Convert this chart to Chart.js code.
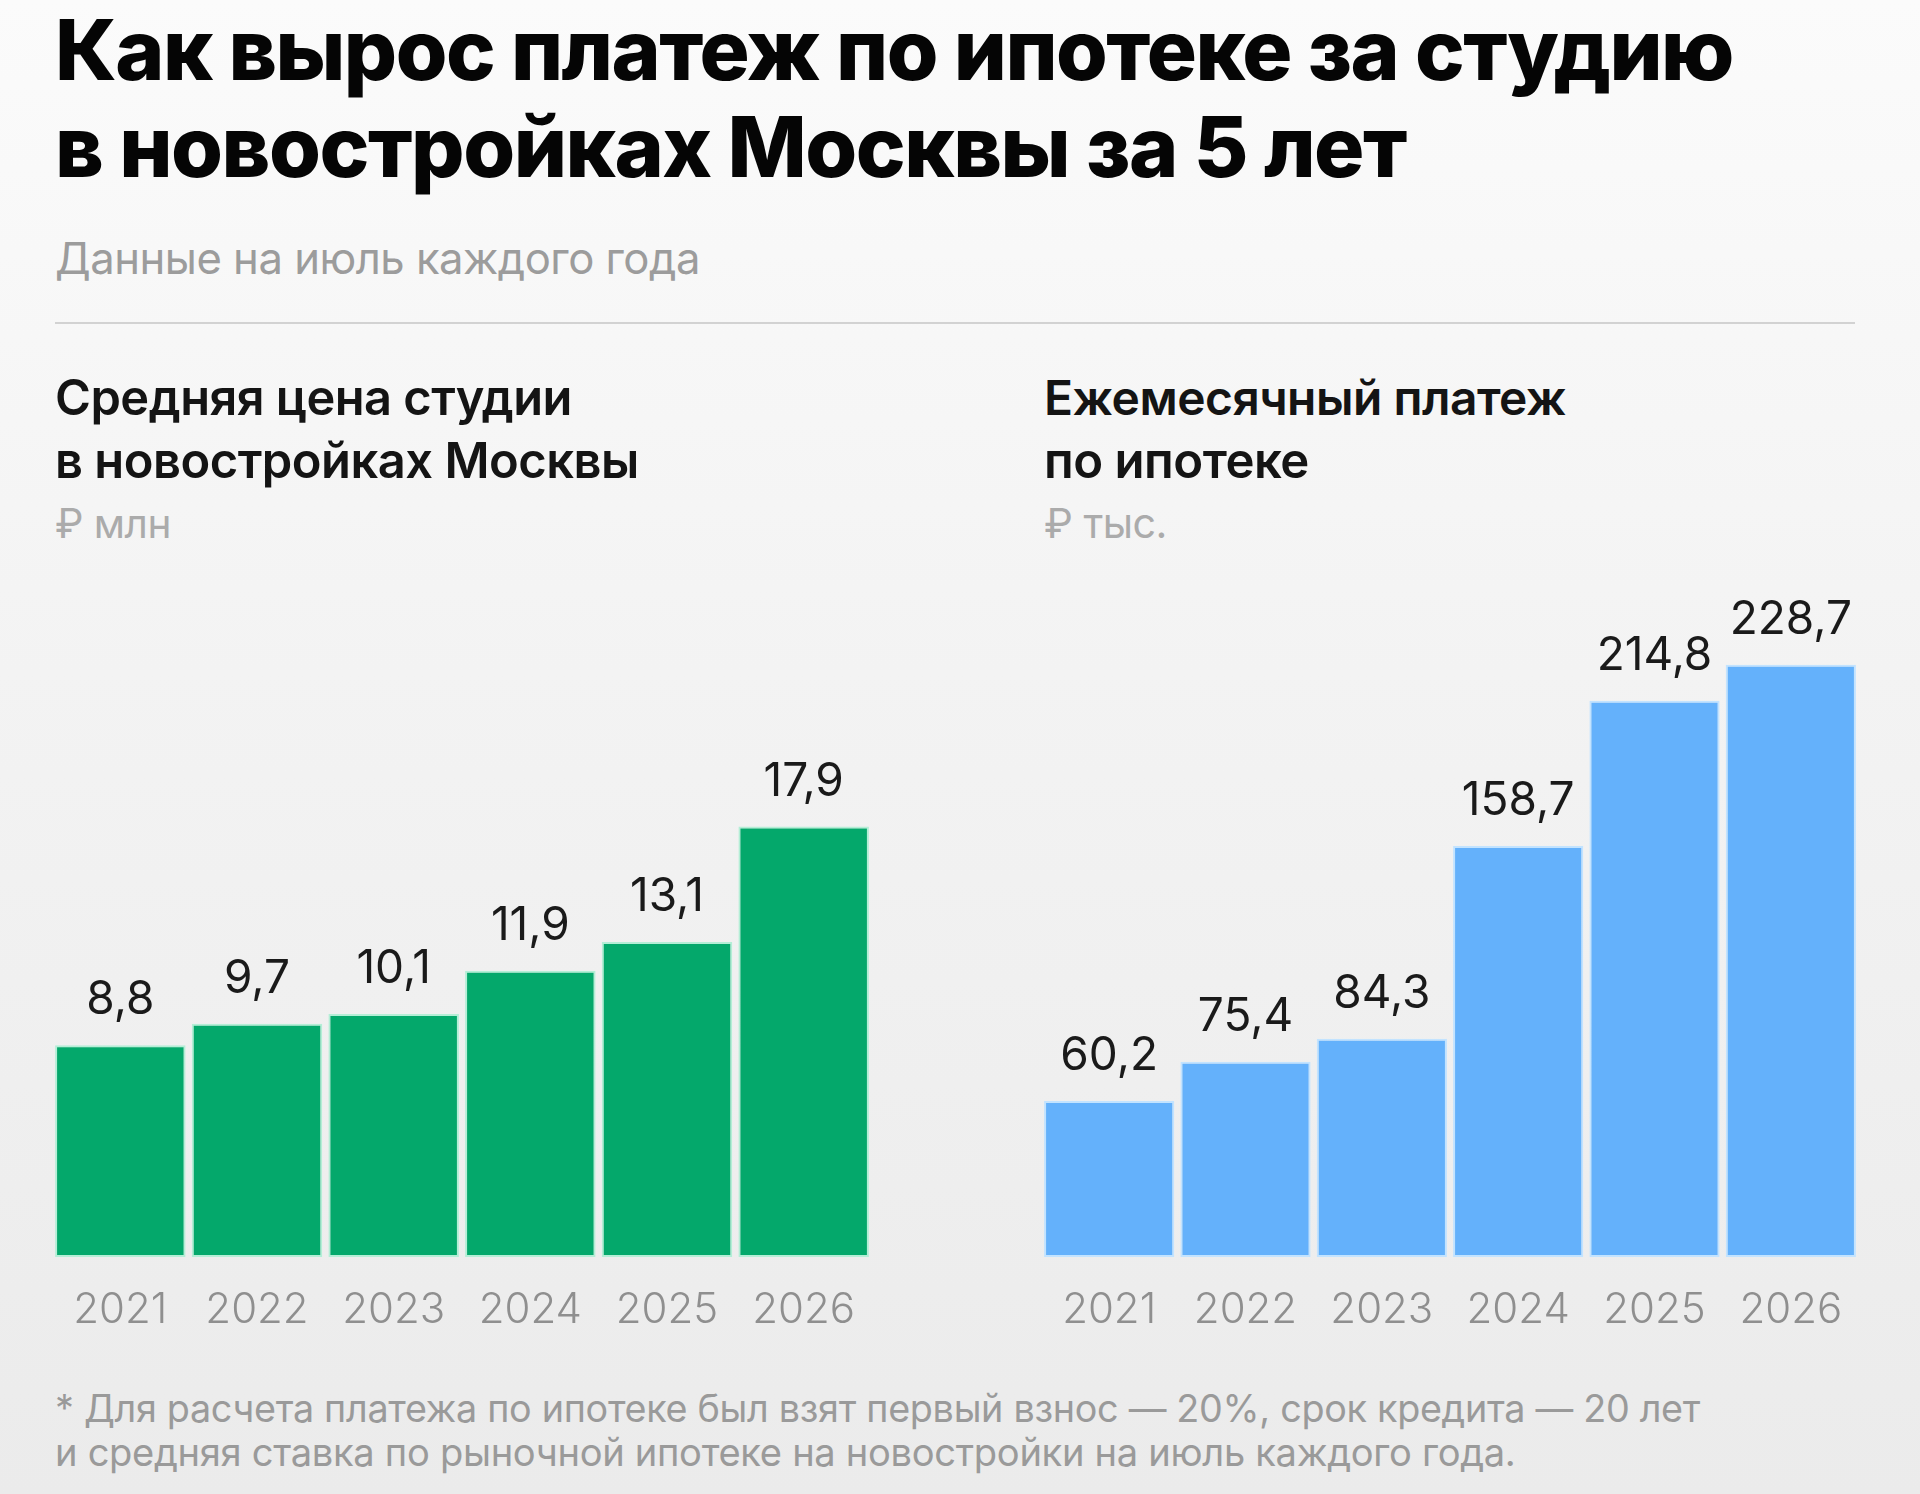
<!DOCTYPE html>
<html lang="ru">
<head>
<meta charset="utf-8">
<script src="https://cdn.jsdelivr.net/npm/chart.js@4"></script>
<style>
  html, body { margin:0; padding:0; }
  body { width:1920px; height:1494px; position:relative; overflow:hidden;
         background: linear-gradient(#fbfbfb 0%, #f3f3f3 45%, #ebebeb 100%);
         font-family: Inter, "Noto Sans", sans-serif; }
  .t { position:absolute; white-space:nowrap; line-height:1.2; }
  .rule { position:absolute; left:55px; top:322px; width:1800px; height:2px; background:#d2d2d2; }
  canvas { position:absolute; }
</style>
</head>
<body>
<div class="t" id="title1" style="font-weight:800;color:#050505;">Как вырос платеж по ипотеке за студию</div>
<div class="t" id="title2" style="font-weight:800;color:#050505;">в новостройках Москвы за 5 лет</div>
<div class="t" id="sub" style="font-weight:400;color:#9c9c9c;">Данные на июль каждого года</div>
<div class="rule"></div>
<div class="t" id="lt1" style="font-weight:600;color:#141414;">Средняя цена студии</div>
<div class="t" id="lt2" style="font-weight:600;color:#141414;">в новостройках Москвы</div>
<div class="t" id="lu" style="font-weight:400;color:#ababab;">₽ млн</div>
<div class="t" id="rt1" style="font-weight:600;color:#141414;">Ежемесячный платеж</div>
<div class="t" id="rt2" style="font-weight:600;color:#141414;">по ипотеке</div>
<div class="t" id="ru" style="font-weight:400;color:#ababab;">₽ тыс.</div>
<div class="t" id="fn1" style="font-weight:400;color:#9a9a9a;">* Для расчета платежа по ипотеке был взят первый взнос — 20%, срок кредита — 20 лет</div>
<div class="t" id="fn2" style="font-weight:400;color:#9a9a9a;">и средняя ставка по рыночной ипотеке на новостройки на июль каждого года.</div>

<canvas id="cLeft" width="820" height="800" style="left:52px;top:560px;width:820px;height:800px;"></canvas>
<canvas id="cRight" width="818" height="800" style="left:1041px;top:560px;width:818px;height:800px;"></canvas>

<script>
// ---- data ----
const years = ['2021', '2022', '2023', '2024', '2025', '2026'];
const priceValues = [8.8, 9.7, 10.1, 11.9, 13.1, 17.9];        // ₽ млн
const paymentValues = [60.2, 75.4, 84.3, 158.7, 214.8, 228.7]; // ₽ тыс.

// ---- text layout: [id, left, baseline, tracking(px), rightEdge] ----
const textSpecs = [
  ['title1', 55, 80, -1.5, 1733],
  ['title2', 55, 177, -1.5, 1406],
  ['sub', 55, 274, -0.5, 700],
  ['lt1', 55, 415, -0.5, 572],
  ['lt2', 55, 478, -0.5, 639],
  ['lu', 55, 538, -0.5, 171],
  ['rt1', 1044, 415, -0.5, 1566],
  ['rt2', 1044, 478, -0.5, 1309],
  ['ru', 1044, 538, -0.5, 1167],
  ['fn1', 55, 1422, -0.3, 1700],
  ['fn2', 55, 1466, -0.3, 1516]
];

function layoutText() {
  textSpecs.forEach(([id, x, base, track, right]) => {
    const el = document.getElementById(id);
    el.style.left = x + 'px';
    el.style.top = '0px';
    el.style.letterSpacing = track + 'px';
    el.style.fontSize = '100px';
    const w100 = el.getBoundingClientRect().width;
    el.style.fontSize = '50px';
    const w50 = el.getBoundingClientRect().width;
    const slope = (w100 - w50) / 50;
    const size = 50 + ((right - x) - w50) / slope;
    el.style.fontSize = size.toFixed(2) + 'px';
    const marker = document.createElement('span');
    marker.style.cssText = 'display:inline-block;width:0;height:0;vertical-align:baseline;';
    el.appendChild(marker);
    const b = marker.getBoundingClientRect().top - el.getBoundingClientRect().top;
    el.style.top = (base - b) + 'px';
  });
}

const fmt = v => v.toFixed(1).replace('.', ',');

const valueLabels = {
  id: 'valueLabels',
  afterDatasetsDraw(chart) {
    const ctx = chart.ctx;
    const meta = chart.getDatasetMeta(0);
    const data = chart.data.datasets[0].data;
    ctx.save();
    ctx.font = '400 46px Inter, "Noto Sans", sans-serif';
    ctx.fillStyle = '#1a1a1a';
    ctx.textAlign = 'center';
    ctx.textBaseline = 'alphabetic';
    meta.data.forEach((bar, i) => {
      ctx.fillText(fmt(data[i]), bar.x, bar.y - 31);
    });
    ctx.restore();
  }
};

function makeChart(id, values, fill, edge, maxY) {
  return new Chart(document.getElementById(id), {
    type: 'bar',
    data: {
      labels: years,
      datasets: [{
        data: values,
        backgroundColor: fill,
        borderColor: edge,
        borderWidth: 2,
        borderSkipped: false,
        barPercentage: 0.955,
        categoryPercentage: 1.0
      }]
    },
    options: {
      responsive: false,
      animation: false,
      devicePixelRatio: 1,
      layout: { padding: { top: 40, left: 0, right: 0, bottom: 0 } },
      plugins: { legend: { display: false }, tooltip: { enabled: false } },
      scales: {
        x: {
          grid: { display: false, drawTicks: false },
          border: { display: false },
          ticks: {
            color: '#8f8f8f',
            font: { family: 'Inter', size: 42, weight: '300' },
            padding: 28
          },
          afterFit(scale) {
            scale.height = 103;
            scale.paddingLeft = 0;
            scale.paddingRight = 0;
          }
        },
        y: { display: false, min: 0, max: maxY }
      }
    },
    plugins: [valueLabels]
  });
}

function init() {
  layoutText();
  makeChart('cLeft', priceValues, '#04a86b', '#b4eed6', 27.32);
  makeChart('cRight', paymentValues, '#64b1fb', '#c2e3ff', 253.7);
}
if (document.fonts && document.fonts.ready) {
  document.fonts.ready.then(init);
} else {
  init();
}
</script>
</body>
</html>
